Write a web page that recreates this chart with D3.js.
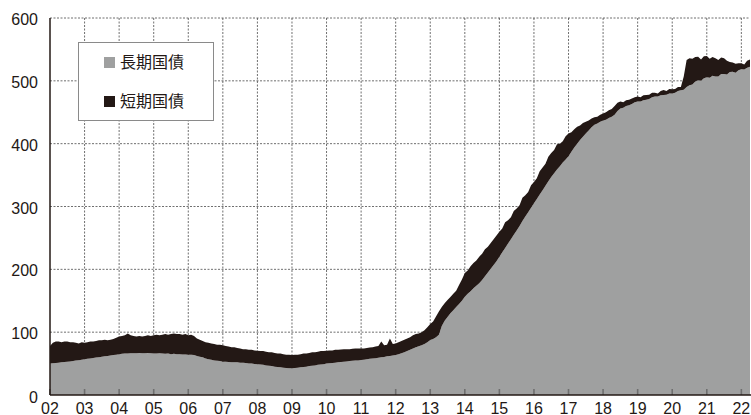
<!DOCTYPE html>
<html>
<head>
<meta charset="utf-8">
<script src="https://cdn.jsdelivr.net/npm/d3@7"></script>
<style>
  html, body { margin: 0; padding: 0; background: #fff; }
  svg { display: block; }
  .tick-label { font-family: "Liberation Sans", Arial, sans-serif; font-size: 16px; fill: #231815; }
  .legend-label { font-family: "Noto Sans CJK JP", sans-serif; font-size: 16px; fill: #231815; }
</style>
</head>
<body>
<svg id="chart" width="751" height="415"></svg>
<script>
// Monthly outstanding amounts, Jan 2002 through Apr 2022 (one row per year)
// Long-term government bonds (gray layer)
const longTerm = [
  50, 50.5, 51, 51.5, 52, 52.5, 53, 53.5, 54, 55, 55.5, 56,
  57, 57.5, 58, 59, 59.5, 60, 61, 61.5, 62, 63, 63.5, 64,
  65, 65.5, 66, 66, 66.5, 66.5, 66.5, 67, 66.5, 66.5, 67, 66.5,
  66, 66, 66.5, 66, 65.5, 66, 65, 65.5, 65, 65, 64.5, 64.5,
  64, 64, 63.5, 62, 61, 60, 58, 57, 56, 55, 54.5, 54,
  53, 53, 52.5, 52, 52, 52, 51.5, 51.5, 51, 50, 50, 49.5,
  49, 48.5, 48, 47, 46.5, 46, 45, 44.5, 44, 43.5, 43, 42.5,
  42.5, 43, 43.5, 44, 44.5, 45, 46, 46.5, 47, 48, 48.5, 49,
  50, 50.5, 51, 51.5, 52, 52.5, 53, 53.5, 54, 54.5, 55, 55,
  55.7, 56, 57, 57.5, 58, 58.5, 59.4, 60, 60.5, 61.5, 62, 63,
  63.7, 65, 66.5, 68, 70, 72, 74, 76, 77.5, 79, 81, 84,
  87.5, 89, 92, 96, 110, 118, 124, 130, 135, 140, 145, 150,
  156.5, 161, 165, 170, 174, 178, 183, 189, 195, 201, 207, 213,
  220, 227, 234, 241, 248, 255, 262, 269, 277, 284, 291, 298,
  305, 312, 319, 326, 333, 340, 347, 353, 359, 364, 370, 375,
  380, 387, 394, 400, 406, 411, 416, 421, 426, 430, 432, 435,
  437, 438, 441, 443, 446, 452, 456, 457, 460, 461, 463, 466,
  467, 467, 469, 470, 471, 474, 475, 475, 477, 477.5, 478, 480,
  480, 481, 484, 485, 486, 490, 493, 494, 499, 501, 500, 504,
  505.6, 505, 508, 507, 507, 511, 511, 510, 514, 514.6, 513, 517,
  518.4, 518, 521, 522.5
];

// Short-term government bonds (dark layer, stacked on top)
const shortTerm = [
  28, 32.5, 34, 33.5, 32, 32.5, 32, 30.5, 30, 28, 26.5, 28,
  26, 26.5, 27, 26, 26.5, 27, 26, 26.5, 25, 25, 25.5, 27,
  28, 28.5, 29, 32, 28.5, 27.5, 26.5, 27, 26.5, 27.5, 28, 27.5,
  29, 30, 28.5, 30, 31.5, 30, 32, 32.5, 32, 32, 31.5, 32.5,
  31, 32, 30.5, 28, 27, 26, 26, 26, 26, 26, 25.5, 26,
  26, 25, 24.5, 24, 24, 23, 22.5, 21.5, 22, 22, 22, 21.5,
  21.5, 21.5, 22, 22, 21.5, 22, 22, 21.5, 22, 21.5, 21, 21.5,
  21, 21, 20.5, 21, 21.5, 21, 21, 21.5, 21, 21, 21.5, 21,
  20.5, 20.5, 20, 20.5, 20, 20, 20, 19.5, 19, 19, 19, 19,
  18.3, 18, 18, 18, 18, 18.5, 18.6, 25, 18.5, 18.5, 28, 18,
  18.3, 19, 19.5, 20, 20, 20, 21, 21, 20.5, 21, 22, 24,
  25.5, 28, 33, 37, 30, 28, 27, 26, 26, 26, 30, 34,
  37.5, 37, 40, 40, 40, 42, 42, 43, 41, 41, 41, 41,
  40, 38, 41, 37, 35, 38, 35, 33, 37, 34, 32, 36,
  34, 33, 37, 36, 35, 39, 38, 37, 40, 36, 34, 37,
  36, 31, 29, 27, 23, 22, 19, 16, 14, 12, 11, 11,
  11, 12, 12, 12, 14, 13, 11, 9, 9, 9, 9, 8,
  8, 7, 8, 7.5, 7, 7, 6, 5, 7, 8, 6, 7,
  6.5, 6, 6, 5, 21, 43, 43, 41, 39, 37.5, 34, 35,
  34, 30, 30, 29, 26, 26, 25, 22, 16, 14.5, 14, 11,
  9.6, 8, 11, 11.5
];

const yTicks = [0, 100, 200, 300, 400, 500, 600];
const xTickYears = d3.range(2002, 2023);
const xTickLabels = xTickYears.map(y => String(y % 100).padStart(2, "0"));

const seriesNames = ["長期国債", "短期国債"];
const seriesColors = ["#9fa0a0", "#231815"];

// Fractional year for each monthly observation
const rows = longTerm.map((v, i) => ({ t: 2002 + i / 12, long: v, short: shortTerm[i] }));

const svg = d3.select("#chart");
const W = 751, H = 415;
const margin = { left: 50, right: 1, top: 18, bottom: 20 };

const x = d3.scaleLinear()
  .domain([2002, 2022.25])
  .range([margin.left, W - margin.right]);
const y = d3.scaleLinear()
  .domain([0, 600])
  .range([H - margin.bottom, margin.top]);

// Dashed grid
const grid = svg.append("g").attr("stroke", "#4a4a4a").attr("stroke-width", 0.8)
  .attr("stroke-dasharray", "2,1.5");
grid.selectAll("line.h").data(yTicks.filter(v => v > 0)).join("line")
  .attr("x1", x(2002)).attr("x2", W - margin.right)
  .attr("y1", d => y(d)).attr("y2", d => y(d));
grid.selectAll("line.v").data(xTickYears.filter(v => v > 2002)).join("line")
  .attr("x1", d => x(d)).attr("x2", d => x(d))
  .attr("y1", y(600)).attr("y2", y(0));

// Stacked areas
const layers = d3.stack().keys(["long", "short"])(rows);
const area = d3.area()
  .x(d => x(d.data.t))
  .y0(d => y(d[0]))
  .y1(d => y(d[1]));

svg.append("g").selectAll("path").data(layers).join("path")
  .attr("d", area)
  .attr("fill", (d, i) => seriesColors[i]);

// Bottom tick marks (inward)
svg.append("g").selectAll("line").data(xTickYears).join("line")
  .attr("x1", d => x(d)).attr("x2", d => x(d))
  .attr("y1", y(0)).attr("y2", y(0) - 6)
  .attr("stroke", "#6e6e6e").attr("stroke-width", 1.6);

// Axis lines
svg.append("line")
  .attr("x1", x(2002)).attr("x2", W)
  .attr("y1", y(0)).attr("y2", y(0))
  .attr("stroke", "#231815").attr("stroke-width", 1.5);
svg.append("line")
  .attr("x1", x(2002)).attr("x2", x(2002))
  .attr("y1", y(600)).attr("y2", y(0))
  .attr("stroke", "#231815").attr("stroke-width", 1.5);

// Y tick labels
svg.append("g").selectAll("text").data(yTicks).join("text")
  .attr("class", "tick-label")
  .attr("x", 38)
  .attr("y", d => y(d) + (d === 0 ? 8 : 7))
  .attr("text-anchor", "end")
  .text(d => d);

// X tick labels
svg.append("g").selectAll("text").data(xTickYears).join("text")
  .attr("class", "tick-label")
  .attr("x", d => x(d))
  .attr("y", 413.5)
  .attr("text-anchor", "middle")
  .text((d, i) => xTickLabels[i]);

// Legend
const legend = svg.append("g");
legend.append("rect")
  .attr("x", 78.5).attr("y", 42.5).attr("width", 135).attr("height", 78)
  .attr("fill", "#fff").attr("stroke", "#8a8a8a").attr("stroke-width", 1);
seriesNames.forEach((name, i) => {
  const yy = 57 + i * 39;
  legend.append("rect")
    .attr("x", 104).attr("y", yy).attr("width", 11).attr("height", 11)
    .attr("fill", seriesColors[i]);
  legend.append("text")
    .attr("class", "legend-label")
    .attr("x", 120).attr("y", yy + 11)
    .text(name);
});
</script>
</body>
</html>
